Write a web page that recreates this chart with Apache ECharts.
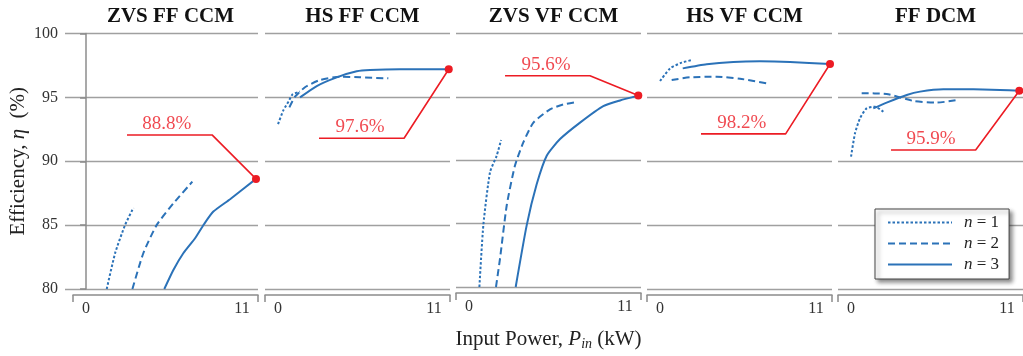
<!DOCTYPE html>
<html>
<head>
<meta charset="utf-8">
<script src="https://cdn.jsdelivr.net/npm/echarts@6/dist/echarts.min.js"></script>
<style>html,body{margin:0;padding:0;background:#fff}#c{width:1023px;height:356px}</style>
</head>
<body>
<div id="c"></div>
<script>
// ---------- data ----------
const panelTitles = ['ZVS FF CCM', 'HS FF CCM', 'ZVS VF CCM', 'HS VF CCM', 'FF DCM'];
const seriesNames = ['n = 1', 'n = 2', 'n = 3'];
const yTickValues = [80, 85, 90, 95, 100];
const xTickValues = [0, 11];

// n = 1 curves, one list per panel: [input power kW, efficiency %]
const n1Data = [
  [[1.46,80],[2.05,82.8],[2.75,85],[3.34,86.35]],
  [[0.0,92.9],[0.38,94.0],[0.73,94.66],[1.03,95.24],[1.55,95.45]],
  [[0.73,80],[1.01,84.9],[1.48,89.06],[1.95,90.36],[2.26,91.6]],
  [[0.0,96.28],[0.71,97.27],[1.53,97.72],[2.3,97.93]],
  [[0.0,90.36],[0.28,92.19],[0.63,93.36],[1.1,94.14],[1.69,94.27],[2.28,93.88]]
];
const n2Data = [
  [[3.27,80],[4.04,82.8],[4.98,85],[6.16,86.7],[7.5,88.4]],
  [[0.8,94.22],[1.2,95.05],[1.9,95.79],[2.96,96.36],[4.37,96.62],[5.78,96.57],[7.78,96.49]],
  [[1.9,80],[2.19,82.28],[2.66,86.45],[3.24,89.58],[3.83,91.41],[4.54,92.97],[5.71,94.01],[6.65,94.4],[7.59,94.59]],
  [[0.82,96.36],[2.12,96.57],[4.0,96.62],[5.64,96.46],[7.64,96.07]],
  [[0.75,95.32],[2.51,95.27],[4.4,94.72],[6.04,94.59],[7.57,94.8]]
];
const n3Data = [
  [[5.52,80],[6.16,81.49],[6.86,82.8],[7.69,83.97],[8.32,85.07],[8.98,86.06],[10.16,87.03],[11.99,88.62]],
  [[1.55,95.0],[2.73,95.89],[4.14,96.57],[5.55,97.04],[6.49,97.14],[8.6,97.2],[12.04,97.2]],
  [[3.29,80],[4.07,84.88],[4.77,88.1],[5.48,90.36],[6.42,91.67],[7.83,92.97],[9.47,94.27],[10.65,94.72],[11.94,95.1]],
  [[1.6,97.27],[3.29,97.59],[5.17,97.77],[7.05,97.82],[9.17,97.77],[11.99,97.61]],
  [[1.57,94.14],[2.51,94.59],[3.93,95.19],[4.87,95.45],[6.51,95.63],[8.63,95.63],[10.5,95.58],[11.87,95.52]]
];

// highlighted peak point, leader-line elbow and leader-line end, label text
const peakPoints = [[11.99,88.62],[12.04,97.2],[11.94,95.1],[11.99,97.61],[11.87,95.52]];
const leaderElbows = [[8.89,92.06],[8.89,91.8],[8.53,96.67],[8.86,92.14],[8.79,90.88]];
const leaderEnds = [[2.89,92.06],[2.89,91.8],[2.54,96.67],[2.89,92.14],[2.82,90.88]];
const labelAnchors = [[5.7,92.06],[5.78,91.8],[5.43,96.67],[5.76,92.14],[5.64,90.88]];
const peakLabels = ['88.8%', '97.6%', '95.6%', '98.2%', '95.9%'];

// ---------- layout / style ----------
const FONT = 'Liberation Serif';
const BLUE = '#2b72b8';
const RED = '#ec1c24';
const GRID_GRAY = '#a0a0a0';
const bracketLeft = [73, 265, 456, 647, 838];
const bracketWidth = 185;
const gridTop = 33.5, gridHeight = 255.5;
const xMin = -0.92, xMax = 12.13;
const pxPerKw = bracketWidth / (xMax - xMin);
const firstGridLeft = 65;
const xMinFirst = xMin - (bracketLeft[0] - firstGridLeft) / pxPerKw;
const lineTypes = [[2.5, 2], [7, 4], 'solid'];
const allCurves = [n1Data, n2Data, n3Data];

const grids = [], xAxes = [], yAxes = [], series = [], titles = [];

function bracketAxis(gridIndex, extra) {
  return Object.assign({
    type: 'value', gridIndex, min: xMin, max: xMax,
    offset: 6,
    axisLine: { show: true, lineStyle: { color: '#8c8c8c', width: 1.5 } },
    axisTick: { show: true, customValues: [xMin, xMax], length: 7, lineStyle: { color: '#8c8c8c', width: 1.5 } },
    axisLabel: { show: true, customValues: xTickValues, margin: 6, fontFamily: FONT, fontSize: 16, color: '#333' },
    splitLine: { show: false }
  }, extra || {});
}

for (let i = 0; i < 5; i++) {
  const left = i === 0 ? firstGridLeft : bracketLeft[i];
  const width = i === 0 ? bracketLeft[0] + bracketWidth - firstGridLeft : bracketWidth;
  grids.push({ left, top: gridTop, width, height: gridHeight, containLabel: false });
  if (i === 0) {
    xAxes.push({ type: 'value', gridIndex: 0, min: xMinFirst, max: xMax, show: false });
  } else {
    const extra = i === 2 ? {
      name: '{n|Input Power, }{i|P}{s|in}{n| (kW)}',
      nameLocation: 'middle', nameGap: 34,
      nameTextStyle: {
        rich: {
          n: { fontFamily: FONT, fontSize: 21, color: '#222', lineHeight: 24 },
          i: { fontFamily: FONT, fontSize: 21, fontStyle: 'italic', color: '#222', lineHeight: 24 },
          s: { fontFamily: FONT, fontSize: 14, fontStyle: 'italic', color: '#222', verticalAlign: 'bottom', lineHeight: 24, padding: [6, 0, 0, 0] }
        }
      }
    } : null;
    xAxes.push(bracketAxis(i, extra));
  }
  yAxes.push({
    type: 'value', gridIndex: i, min: 80, max: 100, interval: 5,
    axisLine: { show: i === 0, lineStyle: { color: '#8c8c8c', width: 1.5 } },
    axisTick: { show: i === 0, length: 6, lineStyle: { color: '#8c8c8c', width: 1.5 } },
    axisLabel: { show: i === 0, margin: 7, fontFamily: FONT, fontSize: 16, color: '#333',
                 customValues: yTickValues },
    splitLine: { show: true, lineStyle: { color: GRID_GRAY, width: 1.3 } },
    name: i === 0 ? '{n|Efficiency, }{i|η}{n|  (%)}' : '',
    nameLocation: 'middle', nameRotate: 90, nameGap: 36,
    nameTextStyle: {
      rich: {
        n: { fontFamily: FONT, fontSize: 21, color: '#222' },
        i: { fontFamily: FONT, fontSize: 21, fontStyle: 'italic', color: '#222' }
      }
    }
  });
  titles.push({
    text: panelTitles[i], left: bracketLeft[i] + bracketWidth / 2, top: 1, textAlign: 'center',
    textStyle: { fontFamily: FONT, fontWeight: 'bold', fontSize: 21, color: '#111' }
  });

  for (let k = 0; k < 3; k++) {
    series.push({
      type: 'line', name: seriesNames[k], xAxisIndex: i, yAxisIndex: i,
      data: allCurves[k][i], symbol: 'none', showSymbol: false,
      smooth: 0.2,
      lineStyle: { color: BLUE, width: 2, type: lineTypes[k] },
      itemStyle: { color: BLUE }, z: 3
    });
  }
  // leader line with peak marker
  series.push({
    type: 'line', name: 'peak' + i, xAxisIndex: i, yAxisIndex: i,
    data: [leaderEnds[i], leaderElbows[i],
           { value: peakPoints[i], symbol: 'circle', symbolSize: 8 }],
    symbol: 'none', showSymbol: true,
    lineStyle: { color: RED, width: 1.6 }, itemStyle: { color: RED }, z: 5
  });
  series.push({
    type: 'scatter', name: 'label' + i, xAxisIndex: i, yAxisIndex: i,
    data: [labelAnchors[i]], symbol: 'circle', symbolSize: 1,
    itemStyle: { color: 'rgba(0,0,0,0)' },
    label: { show: true, position: 'top', distance: 1, formatter: peakLabels[i],
             fontFamily: FONT, fontSize: 19, color: RED },
    z: 6
  });
}
// separate bracket axis for first panel (y-axis panel is wider)
grids.push({ left: bracketLeft[0], top: gridTop, width: bracketWidth, height: gridHeight });
xAxes.push(bracketAxis(5));
yAxes.push({ type: 'value', gridIndex: 5, min: 80, max: 100, show: false });

const chart = echarts.init(document.getElementById('c'), null, { renderer: 'canvas' });
chart.setOption({
  animation: false,
  backgroundColor: '#fff',
  title: titles,
  grid: grids,
  xAxis: xAxes,
  yAxis: yAxes,
  legend: {
    data: seriesNames,
    orient: 'vertical', left: 875, top: 209,
    padding: [5, 10, 6, 12],
    itemWidth: 64, itemHeight: 14, itemGap: 4,
    backgroundColor: '#fff', borderColor: '#444', borderWidth: 1, borderRadius: 0,
    shadowColor: 'rgba(0,0,0,0.45)', shadowBlur: 4, shadowOffsetX: 3, shadowOffsetY: 3,
    itemStyle: { color: 'rgba(0,0,0,0)', borderColor: 'rgba(0,0,0,0)', borderWidth: 0, opacity: 0 },
    formatter: name => '{i|n}' + name.slice(1),
    textStyle: {
      fontFamily: FONT, fontSize: 17, color: '#222', padding: [0, 0, 0, 7], lineHeight: 16,
      rich: { i: { fontFamily: FONT, fontSize: 17, fontStyle: 'italic', color: '#222', lineHeight: 16 } }
    }
  },
  series
});
</script>
</body>
</html>
